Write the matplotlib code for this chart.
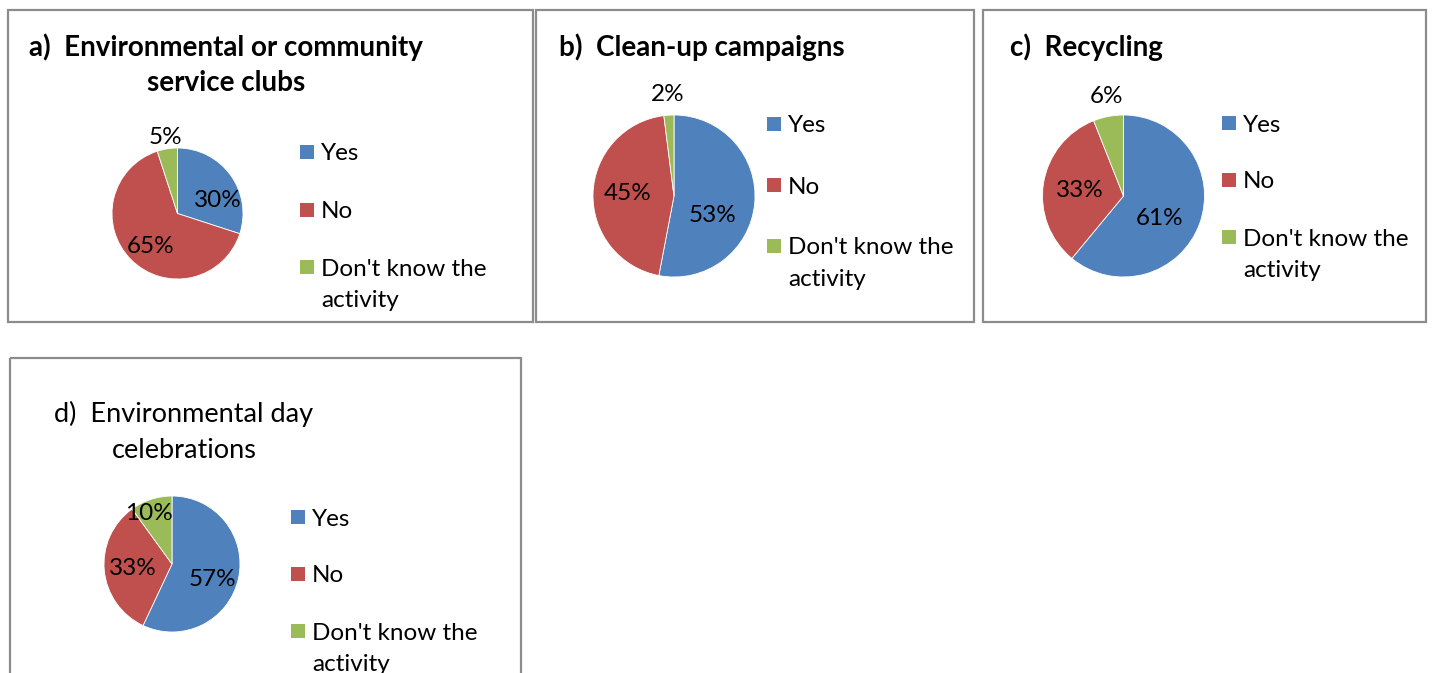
import textwrap

import matplotlib
matplotlib.use("Agg")
import matplotlib.pyplot as plt
from matplotlib.patches import Rectangle
from matplotlib.transforms import Affine2D
import numpy as np

# survey answers per activity, in percent
categories = ["Yes", "No", "Don't know the activity"]
titles = [
    "a)  Environmental or community\nservice clubs",
    "b)  Clean-up campaigns",
    "c)  Recycling",
    "d)  Environmental day\ncelebrations",
]
clubs = [30, 65, 5]
cleanup = [53, 45, 2]
recycling = [61, 33, 6]
env_day = [57, 33, 10]

colors = ["#4F81BD", "#C0504D", "#9BBB59"]

W, H = 1432, 673
fig = plt.figure(figsize=(W / 100, H / 100), dpi=100)
fig.patch.set_facecolor("white")
# pixel coordinates, origin at top-left
pxt = Affine2D().scale(1 / W, -1 / H).translate(0, 1) + fig.transFigure

FONT = "Lato"

# box, pie centre/radius, title, legend and label placement for each panel
panels = [
    dict(values=clubs, title=titles[0], box=(8, 10, 533, 322), bold=True,
         title_xy=(226, 47), title_ha="center",
         pie=(177.5, 213.5, 65.5),
         leg=(300, 152, 57.5), lab_r=[0.65, 0.65, 1.18], lab_da=[-17.6, 6.6, 0]),
    dict(values=cleanup, title=titles[1], box=(536, 10, 974, 322), bold=True,
         title_xy=(559, 47), title_ha="left",
         pie=(674, 196, 81),
         leg=(767, 124, 61), lab_r=[0.53, 0.57, 1.25], lab_da=[-21, -0.7, 0]),
    dict(values=recycling, title=titles[2], box=(983, 10, 1426, 322), bold=True,
         title_xy=(1010, 47), title_ha="left",
         pie=(1123.5, 196, 81),
         leg=(1222, 123, 57), lab_r=[0.53, 0.54, 1.25], lab_da=[-12.4, 2.4, -1.4]),
    dict(values=env_day, title=titles[3], box=(10, 358, 521, 720), bold=False,
         title_xy=(184, 414), title_ha="center",
         pie=(172, 564, 68),
         leg=(291, 517, 57), lab_r=[0.63, 0.58, 0.82], lab_da=[-8, 0.5, 6]),
]

for p in panels:
    x0, y0, x1, y1 = p["box"]
    fig.patches.append(Rectangle((x0, y0), x1 - x0, y1 - y0, transform=pxt,
                                 fill=False, edgecolor="#8c8c8c", linewidth=1.6))

    # title, one text per line so the spacing stays fixed
    tx, ty = p["title_xy"]
    for i, line in enumerate(p["title"].split("\n")):
        fig.text(tx, ty + i * 36, line, transform=pxt, ha=p["title_ha"], va="center",
                 fontsize=20 if p["bold"] else 19.5,
                 fontweight="bold" if p["bold"] else "normal", family=FONT)

    # pie
    cx, cy, r = p["pie"]
    ax = fig.add_axes([(cx - r) / W, 1 - (cy + r) / H, 2 * r / W, 2 * r / H])
    wedges, _ = ax.pie(p["values"], colors=colors, startangle=90, counterclock=False,
                       radius=1, wedgeprops=dict(edgecolor="white", linewidth=0.6))
    ax.set_xlim(-1, 1)
    ax.set_ylim(-1, 1)
    ax.set_aspect("equal")
    ax.axis("off")

    for w, v, rf, da in zip(wedges, p["values"], p["lab_r"], p["lab_da"]):
        ang = np.deg2rad((w.theta1 + w.theta2) / 2 + da)
        ax.text(rf * np.cos(ang), rf * np.sin(ang), f"{v}%", ha="center", va="center",
                fontsize=17.5, family=FONT, color="black", clip_on=False)

    # legend
    lx, ly, step = p["leg"]
    for i, (cat, col) in enumerate(zip(categories, colors)):
        yy = ly + i * step
        fig.patches.append(Rectangle((lx, yy - 7), 14, 14, transform=pxt,
                                     facecolor=col, edgecolor="none"))
        fig.text(lx + 21, yy - 8.5, textwrap.fill(cat, 14), transform=pxt,
                 ha="left", va="top", fontsize=17.5, family=FONT, linespacing=1.6)

fig.savefig("out.png", dpi=100, facecolor="white")
